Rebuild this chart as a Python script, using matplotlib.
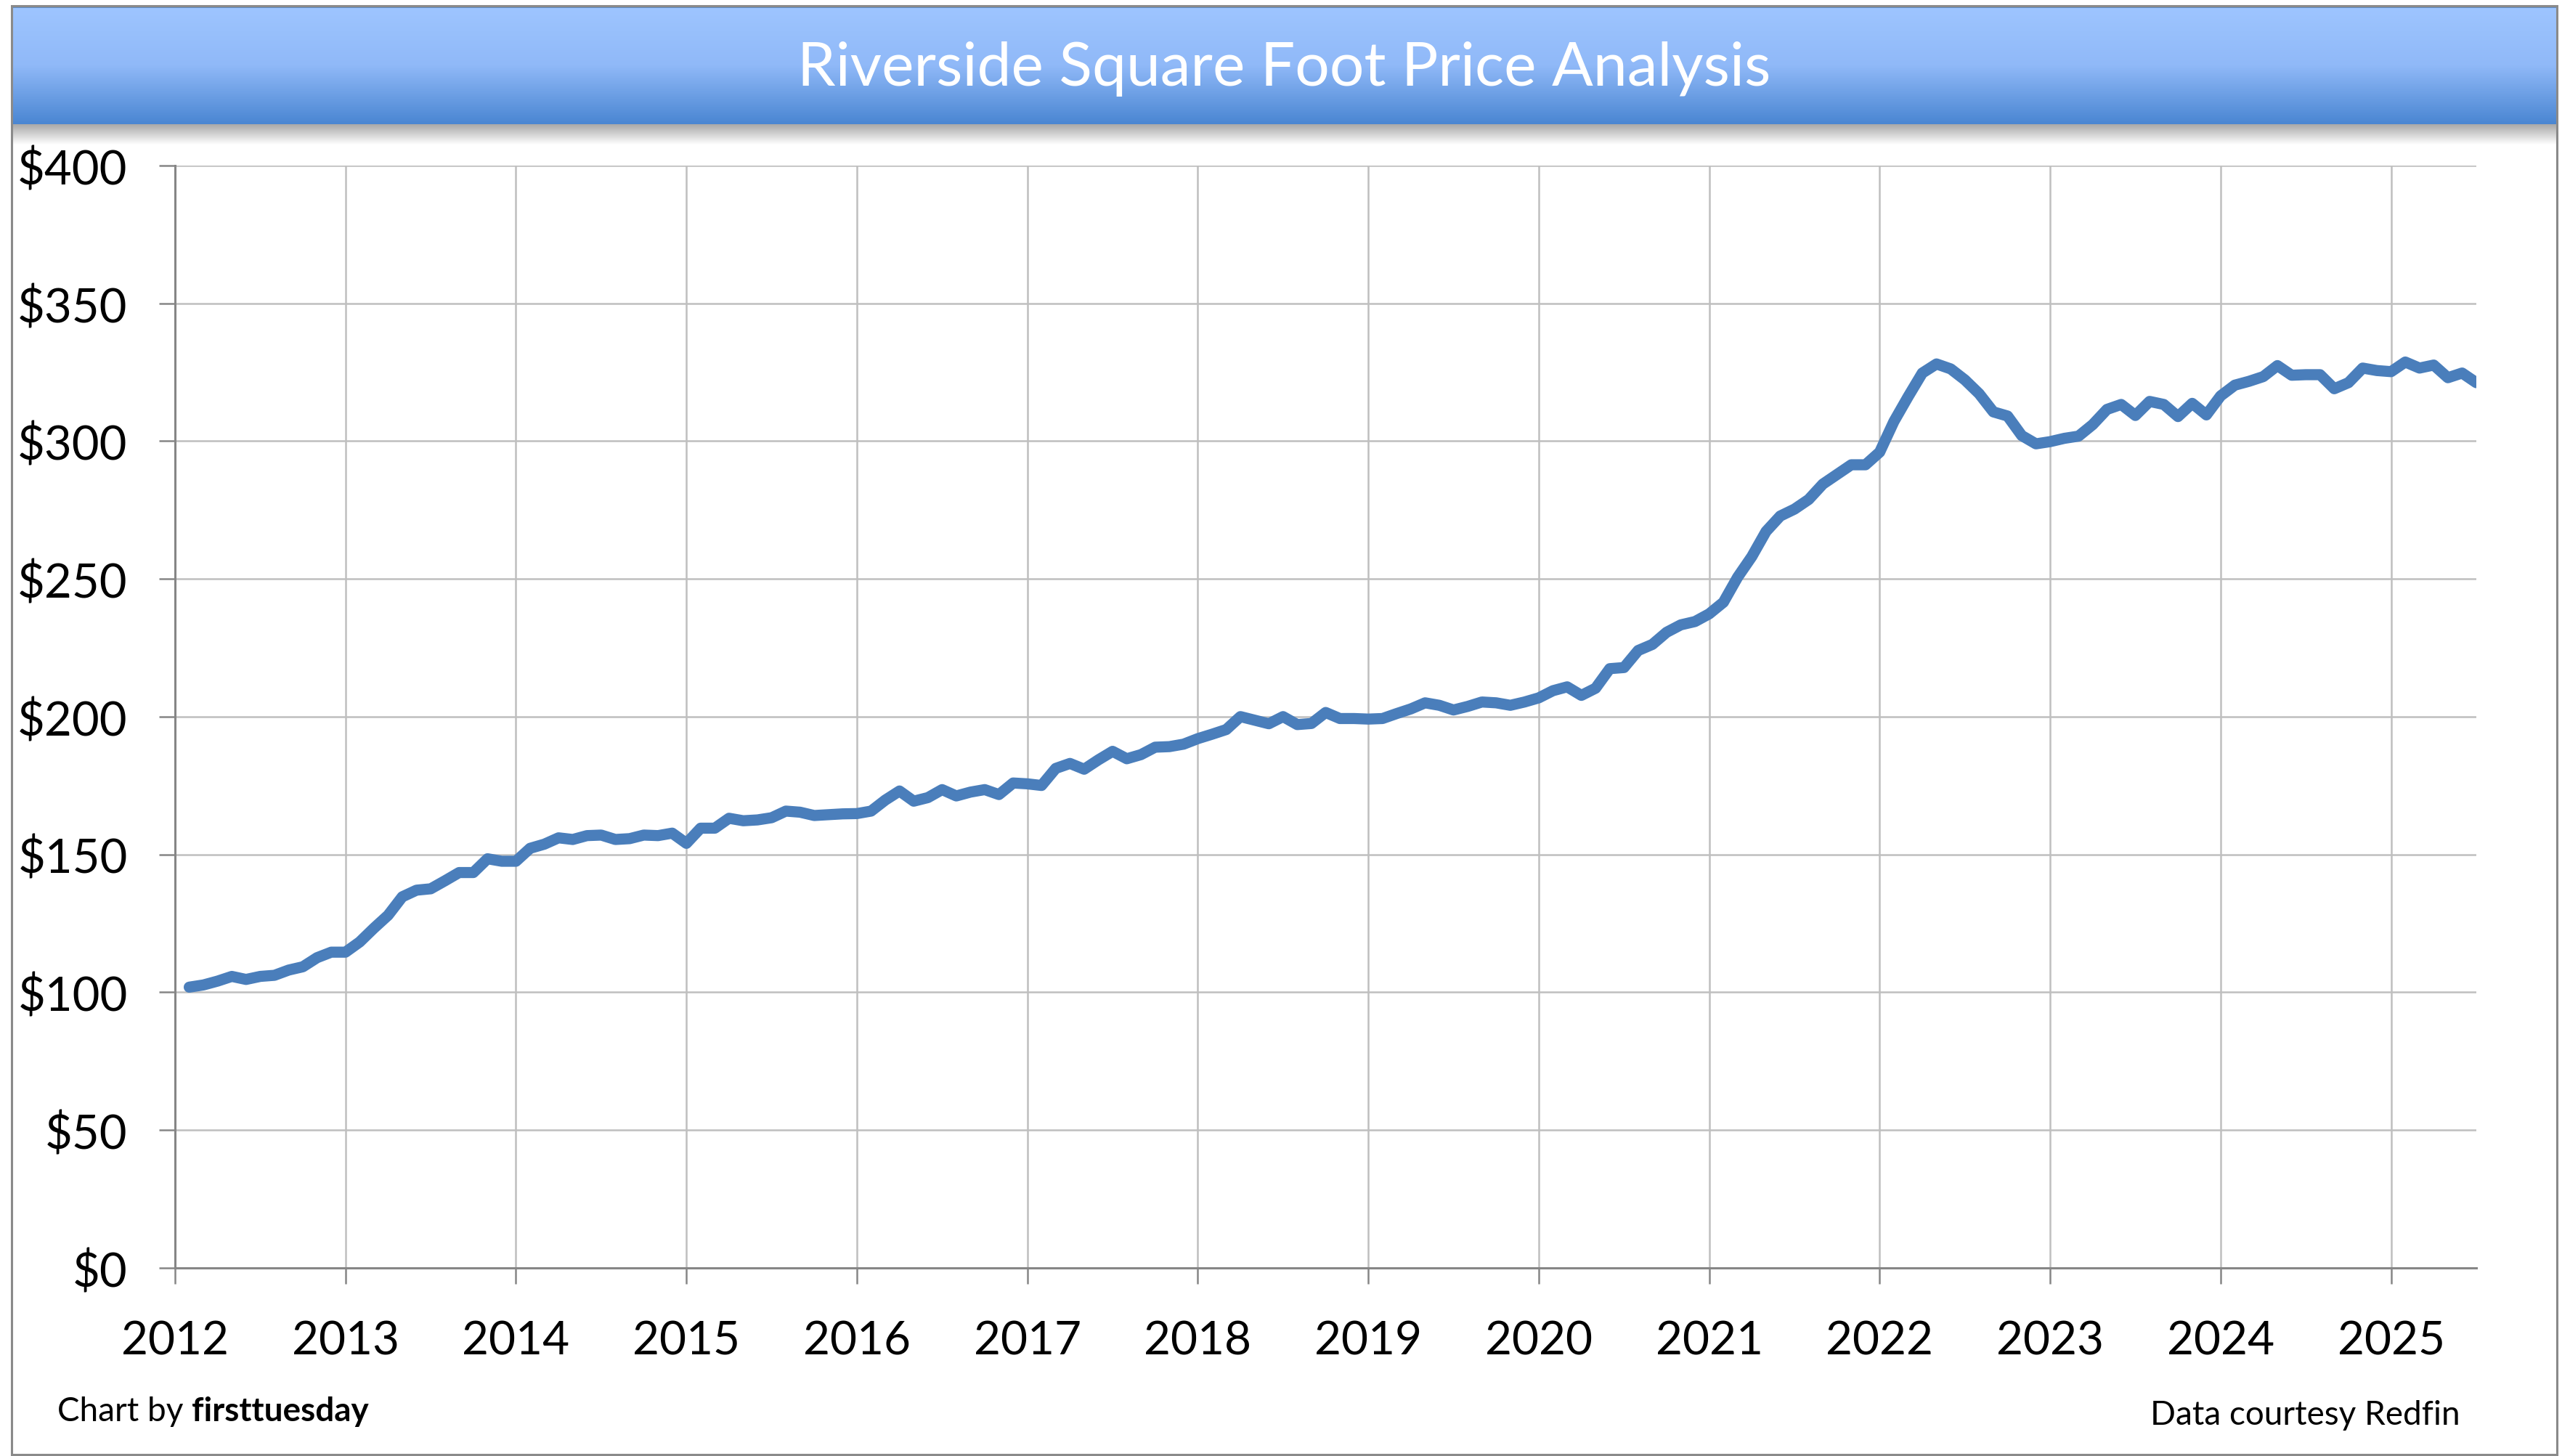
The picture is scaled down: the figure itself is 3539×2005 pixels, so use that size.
import numpy as np
import matplotlib.pyplot as plt
from matplotlib.patches import Rectangle
from matplotlib.colors import LinearSegmentedColormap

# Riverside median price per square foot, monthly (Redfin)
start_year = 2012
price = [
    101.8, 102.6, 104.0, 105.7, 104.6, 105.7, 106.1, 108.0, 109.2, 112.5, 114.5, 114.5,
    118.2, 123.2, 127.9, 134.6, 137.0, 137.5, 140.4, 143.4, 143.4, 148.4, 147.5, 147.5,
    152.2, 153.7, 156.0, 155.4, 156.8, 157.0, 155.4, 155.7, 157.0, 156.8, 157.7, 154.0,
    159.5, 159.5, 163.1, 162.2, 162.5, 163.3, 165.7, 165.3, 164.1, 164.4, 164.7, 164.8,
    165.7, 169.7, 173.0, 169.3, 170.6, 173.5, 171.2, 172.6, 173.5, 171.7, 175.9, 175.6,
    175.0, 181.2, 183.0, 180.9, 184.3, 187.4, 184.7, 186.2, 188.9, 189.1, 190.0, 192.0,
    193.6, 195.3, 200.0, 198.7, 197.4, 200.0, 197.1, 197.5, 201.5, 199.3, 199.3, 199.1,
    199.3, 201.1, 202.8, 205.0, 204.1, 202.4, 203.7, 205.3, 205.0, 204.1, 205.3, 206.8,
    209.4, 210.8, 207.7, 210.3, 217.4, 217.8, 224.0, 226.2, 230.6, 233.3, 234.5, 237.3,
    241.5, 250.6, 258.1, 267.2, 272.8, 275.3, 278.8, 284.4, 287.9, 291.4, 291.4, 296.0,
    307.1, 316.1, 324.7, 328.0, 326.2, 322.2, 317.2, 310.6, 309.1, 302.0, 299.0, 299.8,
    301.0, 301.8, 306.0, 311.5, 313.3, 309.3, 314.4, 313.3, 308.9, 313.7, 309.5, 316.4,
    320.3, 321.7, 323.4, 327.4, 323.9, 324.1, 324.1, 319.0, 321.2, 326.5, 325.6, 325.2,
    328.7, 326.5, 327.6, 323.0, 324.7, 321.2,
]
year_ticks = list(range(2012, 2026))
price_ticks = [0, 50, 100, 150, 200, 250, 300, 350, 400]
price_labels = ['$' + str(v) for v in price_ticks]

title = 'Riverside Square Foot Price Analysis'
credit_left = 'Chart by '
credit_bold = 'firsttuesday'
credit_right = 'Data courtesy Redfin'

plt.rcParams['font.family'] = ['Lato', 'DejaVu Sans']

W, H = 3539, 2006
fig = plt.figure(figsize=(W / 100, H / 100), dpi=100)

# outer frame
fig.patches.append(Rectangle((16 / W, 1 - 2004 / H), (3521 - 16) / W, (2004 - 9) / H,
                             transform=fig.transFigure, fill=False,
                             edgecolor='#8a8a8a', linewidth=2.2))

# title banner with gradient
blue = LinearSegmentedColormap.from_list('banner', ['#9ec5ff', '#90b9f8', '#4a86d2'])
bax = fig.add_axes([16 / W, 1 - 172 / H, (3521 - 16) / W, (172 - 9) / H])
bax.imshow(np.linspace(0, 1, 200).reshape(-1, 1), cmap=blue, aspect='auto',
           extent=(0, 1, 0, 1))
bax.axhline(1, color='#4a7ebb', linewidth=4)
bax.set_axis_off()
bax.text(0.5, 0.47, title, color='white', fontsize=60.5, ha='center', va='center',
         transform=bax.transAxes)

# soft shadow under the banner
grey = LinearSegmentedColormap.from_list('shadow', ['#a8a8a8', '#ffffff'])
sax = fig.add_axes([16 / W, 1 - 200 / H, (3521 - 16) / W, 28 / H])
sax.imshow(np.linspace(0, 1, 100).reshape(-1, 1), cmap=grey, aspect='auto',
           extent=(0, 1, 0, 1))
sax.set_axis_off()

# main chart
ax = fig.add_axes([241 / W, 1 - 1746.6 / H, (3410 - 241) / W, (1746.6 - 229) / H])
x = start_year + np.arange(1, len(price) + 1) / 12
ax.plot(x, price, color='#4a7ebb', linewidth=11, solid_joinstyle='round',
        solid_capstyle='round', zorder=3)

ax.set_xlim(2012, 2025.5)
ax.set_ylim(0, 400)
ax.set_xticks(year_ticks)
ax.set_xticklabels([str(y) for y in year_ticks], fontsize=46)
ax.set_yticks(price_ticks)
ax.set_yticklabels(price_labels, fontsize=47)
ax.grid(True, color='#bfbfbf', linewidth=1.8)
ax.set_axisbelow(True)
for s in ['top', 'right']:
    ax.spines[s].set_visible(False)
for s in ['left', 'bottom']:
    ax.spines[s].set_color('#868686')
    ax.spines[s].set_linewidth(2.2)
ax.tick_params(axis='x', length=16, width=1.8, color='#868686', pad=36)
ax.tick_params(axis='y', length=16, width=1.8, color='#868686', pad=31)

# footer credits
t1 = fig.text(79 / W, 1 - 1957 / H, credit_left, fontsize=33, va='baseline')
fig.canvas.draw()
bb = t1.get_window_extent()
fig.text(bb.x1 / W, 1 - 1957 / H, credit_bold, fontsize=33, fontweight='bold',
         va='baseline')
fig.text(3388 / W, 1 - 1962 / H, credit_right, fontsize=33, ha='right', va='baseline')

fig.savefig('out.png', dpi=100)
